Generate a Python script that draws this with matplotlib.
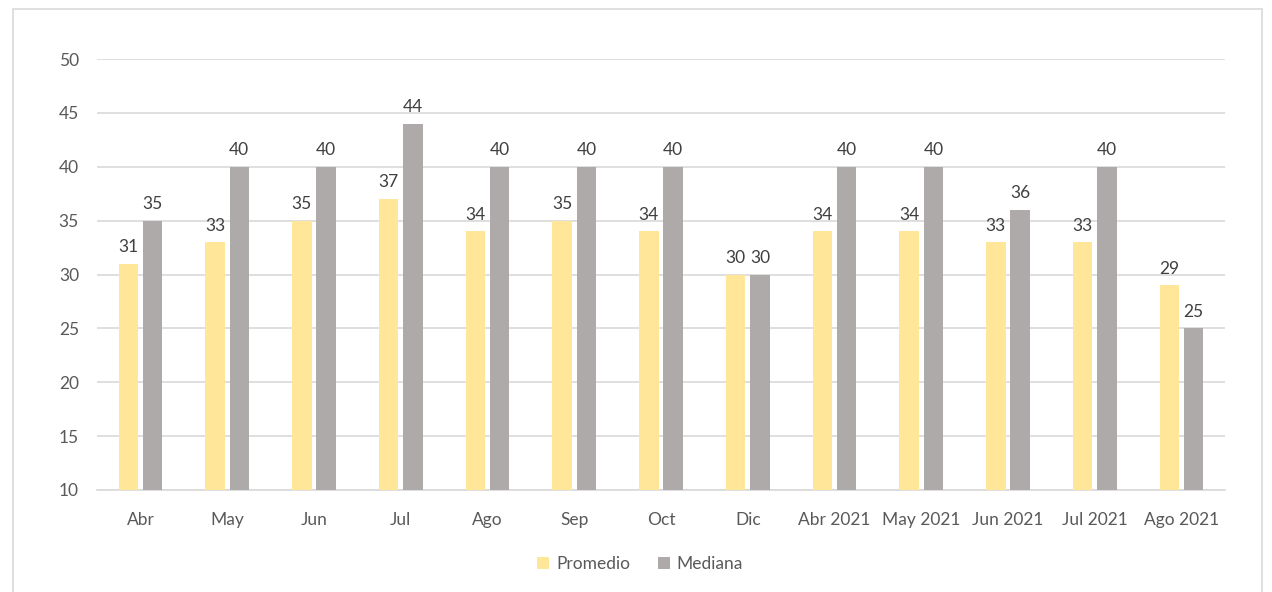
import matplotlib
matplotlib.use("Agg")
import matplotlib.pyplot as plt
from matplotlib.patches import Rectangle
import numpy as np

categories = ["Abr", "May", "Jun", "Jul", "Ago", "Sep", "Oct", "Dic",
              "Abr 2021", "May 2021", "Jun 2021", "Jul 2021", "Ago 2021"]
promedio = [31, 33, 35, 37, 34, 35, 34, 30, 34, 34, 33, 33, 29]
mediana = [35, 40, 40, 44, 40, 40, 40, 30, 40, 40, 36, 40, 25]

plt.rcParams['font.family'] = ['Lato', 'DejaVu Sans']
txt = "#595959"
fs = 12.5
fig = plt.figure(figsize=(12.72, 5.92), dpi=100)
ax = fig.add_axes([0.0763, 0.1723, 0.963 - 0.0763, 0.9003 - 0.1723])

fig.patches.append(Rectangle((13/1272, -0.01), (1262-13)/1272, 1 - 9/592 + 0.01,
                             transform=fig.transFigure, fill=False,
                             edgecolor="#D9D9D9", linewidth=1.2))

x = np.arange(len(categories))
w = 0.225
off = 0.14
b1 = ax.bar(x - off, np.array(promedio) - 10, w, bottom=10, color="#FFE699", label="Promedio", zorder=3)
b2 = ax.bar(x + off, np.array(mediana) - 10, w, bottom=10, color="#AEAAAA", label="Mediana", zorder=3)
for xi, v in zip(x, promedio):
    ax.text(xi - off, v + 0.8, str(v), ha="center", va="bottom", fontsize=fs, color="#404040")
for xi, v in zip(x, mediana):
    ax.text(xi + off, v + 0.8, str(v), ha="center", va="bottom", fontsize=fs, color="#404040")

ax.set_xlim(-0.5, len(categories) - 0.5)
ax.set_ylim(10, 50)
ax.set_yticks(range(10, 51, 5))
ax.set_xticks(x)
ax.set_xticklabels(categories)
ax.tick_params(axis="both", length=0, labelsize=fs, labelcolor=txt)
ax.tick_params(axis="y", pad=13)
ax.tick_params(axis="x", pad=16)
ax.grid(axis="y", color="#D9D9D9", linewidth=1.2, zorder=0)
for s in ["top", "right", "left"]:
    ax.spines[s].set_visible(False)
ax.spines["bottom"].set_color("#D9D9D9")
ax.spines["bottom"].set_linewidth(1.2)

leg = fig.legend(handles=[b1, b2], labels=["Promedio", "Mediana"], loc="center",
                 bbox_to_anchor=(640/1272, 1 - 564/592), ncol=2, frameon=False,
                 fontsize=fs, handlelength=0.7, handleheight=0.7, handletextpad=0.4,
                 columnspacing=1.6)
for t in leg.get_texts():
    t.set_color(txt)

fig.savefig("out.png", dpi=100)
